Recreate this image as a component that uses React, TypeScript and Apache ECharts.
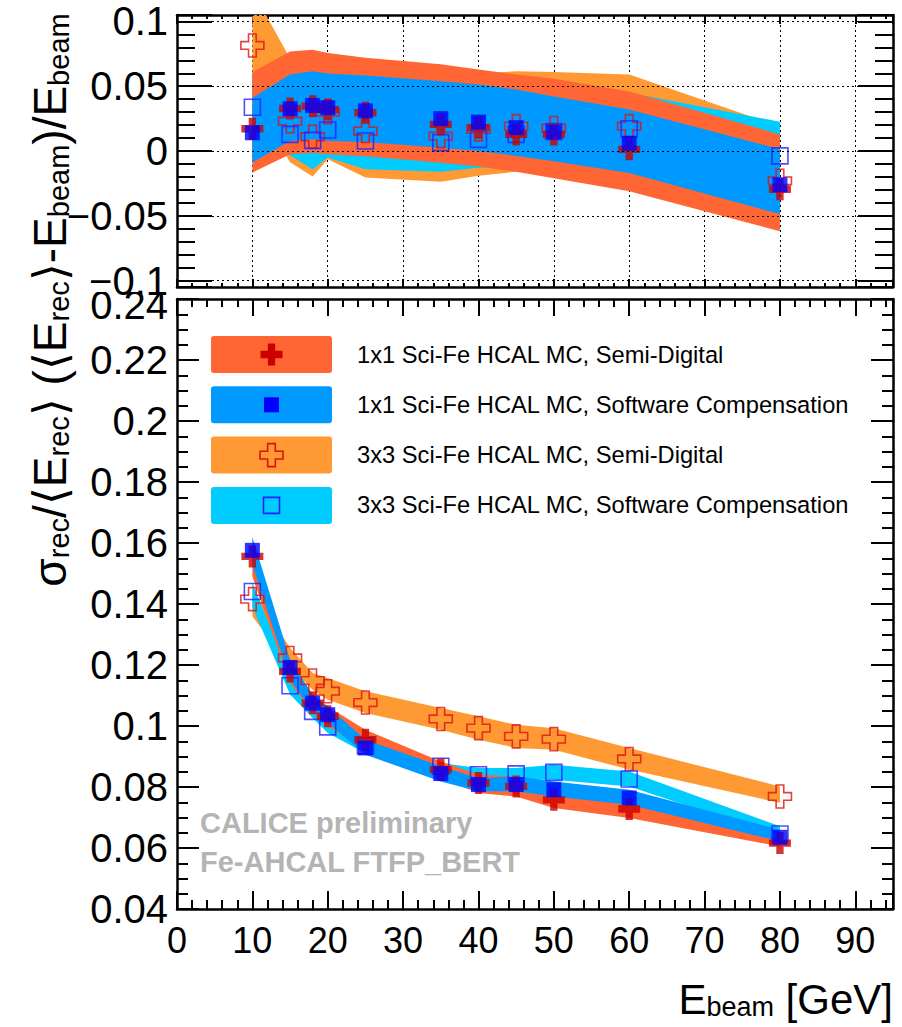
import React, { useEffect, useRef } from "react";
import * as echarts from "echarts";

const FONT = "'Liberation Sans', Arial, Helvetica, sans-serif";

// Beam energies [GeV]
const energies = [10, 15, 18, 20, 25, 35, 40, 45, 50, 60, 80];

// Linearity: (<E_rec> - E_beam) / E_beam
const lin1x1SD = [0.0172, 0.0328, 0.0346, 0.032, 0.0295, 0.0205, 0.018, 0.0128, 0.0128, 0.0013, -0.0295];
const lin1x1SC = [0.0141, 0.0326, 0.0352, 0.0334, 0.031, 0.025, 0.0223, 0.018, 0.0146, 0.006, -0.026];
const lin3x3SD = [0.0815, 0.023, 0.011, 0.03, 0.0154, 0.0115, 0.0167, 0.0192, 0.0177, 0.0192, -0.023];
const lin3x3SC = [0.0338, 0.0128, 0.0082, 0.0162, 0.0077, 0.0065, 0.009, 0.0128, 0.015, 0.0172, -0.0038];

// Linearity uncertainty bands (lower / upper edges)
const linBand1x1SDLo = [-0.0167, -0.0026, -0.0013, -0.0026, -0.004, -0.009, -0.012, -0.016, -0.021, -0.031, -0.062];
const linBand1x1SDHi = [0.0608, 0.0769, 0.0782, 0.0757, 0.072, 0.067, 0.063, 0.059, 0.0557, 0.046, 0.0128];
const linBand1x1SCLo = [-0.0089, 0.0077, 0.009, 0.0077, 0.0069, 0.0026, 0.0, -0.0038, -0.008, -0.017, -0.0487];
const linBand1x1SCHi = [0.041, 0.059, 0.0615, 0.0598, 0.0582, 0.0538, 0.0513, 0.0475, 0.042, 0.032, 0.0013];
const linBand3x3SDLo = [0.039, -0.0087, -0.0197, -0.0064, -0.0205, -0.0238, -0.0192, -0.016, -0.012, -0.01, -0.04];
const linBand3x3SDHi = [0.124, 0.0715, 0.06, 0.062, 0.055, 0.056, 0.06, 0.0615, 0.061, 0.059, 0.019];
const linBand3x3SCLo = [0.0, -0.0033, -0.014, -0.005, -0.014, -0.016, -0.013, -0.011, -0.01, -0.008, -0.028];
const linBand3x3SCHi = [0.058, 0.04, 0.035, 0.04, 0.034, 0.032, 0.034, 0.038, 0.04, 0.045, 0.0226];

// Resolution: sigma_rec / <E_rec>
const res1x1SD = [0.1556, 0.1179, 0.1075, 0.1032, 0.0955, 0.0857, 0.0813, 0.0802, 0.0758, 0.0728, 0.0616];
const res1x1SC = [0.1576, 0.1192, 0.1075, 0.1037, 0.0928, 0.0844, 0.0808, 0.0808, 0.0791, 0.0764, 0.0635];
const res3x3SD = [0.1416, 0.1223, 0.1149, 0.1114, 0.1077, 0.1023, 0.0993, 0.0966, 0.0957, 0.0892, 0.0769];
const res3x3SC = [0.1441, 0.1132, 0.1048, 0.0997, 0.0935, 0.0868, 0.084, 0.0843, 0.0848, 0.0826, 0.0646];

// Resolution uncertainty bands (lower / upper edges)
const resBand1x1SDLo = [0.149, 0.1141, 0.1045, 0.0999, 0.0922, 0.0829, 0.078, 0.0769, 0.0731, 0.0698, 0.0605];
const resBand1x1SDHi = [0.158, 0.1207, 0.11, 0.1064, 0.0988, 0.0884, 0.084, 0.0835, 0.0791, 0.0764, 0.0649];
const resBand1x1SCLo = [0.153, 0.1152, 0.1048, 0.101, 0.0906, 0.0818, 0.0786, 0.0786, 0.0769, 0.0742, 0.0622];
const resBand1x1SCHi = [0.162, 0.1217, 0.1103, 0.1064, 0.0955, 0.0868, 0.0829, 0.0835, 0.0818, 0.0791, 0.066];
const resBand3x3SDLo = [0.136, 0.1195, 0.1119, 0.1086, 0.1043, 0.0988, 0.0955, 0.0928, 0.0922, 0.0857, 0.0748];
const resBand3x3SDHi = [0.145, 0.1256, 0.1174, 0.1157, 0.1114, 0.1059, 0.1032, 0.1004, 0.0993, 0.0928, 0.0802];
const resBand3x3SCLo = [0.139, 0.1103, 0.1026, 0.0977, 0.0911, 0.0846, 0.0824, 0.0824, 0.0824, 0.0802, 0.0638];
const resBand3x3SCHi = [0.147, 0.1163, 0.107, 0.1021, 0.0944, 0.0879, 0.0862, 0.0862, 0.0873, 0.0851, 0.0671];

const legendLabels = [
  "1x1 Sci-Fe HCAL MC, Semi-Digital",
  "1x1 Sci-Fe HCAL MC, Software Compensation",
  "3x3 Sci-Fe HCAL MC, Semi-Digital",
  "3x3 Sci-Fe HCAL MC, Software Compensation",
];

const C_BAND_1x1SD = "#ff6633";
const C_BAND_1x1SC = "#0099ff";
const C_BAND_3x3SD = "#ff9933";
const C_BAND_3x3SC = "#00ccff";
const C_RED = "#cc0000";
const C_RED_OPEN = "#dd1111";
const C_BLUE = "#0000ff";
const C_BLUE_OPEN = "#2222ff";

const CROSS = "path://M1,0L2,0L2,1L3,1L3,2L2,2L2,3L1,3L1,2L0,2L0,1L1,1Z";

const pairs = (ys: number[]) => energies.map((e, i) => [e, ys[i]]);

// A filled band between lower and upper edges, drawn as one polygon clipped to the plot area
function bandSeries(lo: number[], hi: number[], color: string, axis: number) {
  return {
    type: "custom",
    xAxisIndex: axis,
    yAxisIndex: axis,
    silent: true,
    data: energies.map((e, i) => [e, lo[i], hi[i]]),
    encode: { x: 0, y: [1, 2] },
    renderItem: (params: any, api: any) => {
      if (params.dataIndex !== 0) return null;
      const upper = energies.map((e, i) => api.coord([e, hi[i]]));
      const lower = energies.map((e, i) => api.coord([e, lo[i]])).reverse();
      const cs = params.coordSys;
      return {
        type: "polygon",
        shape: { points: upper.concat(lower) },
        style: { fill: color, stroke: null },
        clipPath: { type: "rect", shape: { x: cs.x, y: cs.y, width: cs.width, height: cs.height } },
      };
    },
  };
}

function markerSeries(vals: number[], axis: number, kind: string) {
  const base: any = {
    type: "scatter",
    xAxisIndex: axis,
    yAxisIndex: axis,
    data: pairs(vals),
    silent: true,
  };
  if (kind === "fcross") return { ...base, symbol: CROSS, symbolSize: 22, itemStyle: { color: C_RED } };
  if (kind === "fsquare") return { ...base, symbol: "rect", symbolSize: 15, itemStyle: { color: C_BLUE } };
  if (kind === "ocross")
    return {
      ...base,
      symbol: CROSS,
      symbolSize: 23,
      itemStyle: { color: "rgba(0,0,0,0)", borderColor: C_RED_OPEN, borderWidth: 1.6 },
    };
  return {
    ...base,
    symbol: "rect",
    symbolSize: 16,
    itemStyle: { color: "rgba(0,0,0,0)", borderColor: C_BLUE_OPEN, borderWidth: 1.6 },
  };
}

const numFmt = (v: number) => String(Number(v.toFixed(3))).replace("-", "\u2212");

function xAxisDef(gridIndex: number, position: string, major: number, minor: number, labels: boolean, split: boolean) {
  return {
    type: "value",
    gridIndex,
    position,
    min: 0,
    max: 95,
    interval: 10,
    axisLine: { show: true, onZero: false, lineStyle: { color: "#000", width: 2.5 } },
    axisTick: { show: true, inside: true, length: major, lineStyle: { color: "#000", width: 2 } },
    minorTick: { show: true, splitNumber: 5, length: minor, lineStyle: { color: "#000", width: 2 } },
    axisLabel: labels
      ? {
          show: true,
          margin: 13,
          fontSize: 36,
          fontFamily: FONT,
          color: "#000",
          formatter: (v: number) => (v % 10 === 0 ? String(v) : ""),
        }
      : { show: false },
    splitLine: split ? { show: true, lineStyle: { color: "#000", width: 1, type: [2, 3] } } : { show: false },
  };
}

function yLinDef(position: string, labels: boolean, split: boolean) {
  return {
    type: "value",
    gridIndex: 0,
    position,
    min: -0.105,
    max: 0.105,
    minInterval: 0.05,
    maxInterval: 0.05,
    z: 6,
    axisLine: { show: true, onZero: false, lineStyle: { color: "#000", width: 2.5 } },
    axisTick: { show: true, inside: true, length: 35, lineStyle: { color: "#000", width: 2 } },
    minorTick: { show: true, splitNumber: 5, length: 18, lineStyle: { color: "#000", width: 2 } },
    axisLabel: labels
      ? {
          show: true,
          margin: 9,
          fontSize: 40,
          fontFamily: FONT,
          color: "#000",
          showMinLabel: false,
          showMaxLabel: false,
          formatter: (v: number) => (Math.abs(v) > 0.1001 ? "" : numFmt(v)),
        }
      : { show: false },
    splitLine: split ? { show: true, lineStyle: { color: "#000", width: 1, type: [2, 3] } } : { show: false },
  };
}

function yResDef(position: string, labels: boolean) {
  return {
    type: "value",
    gridIndex: 1,
    position,
    min: 0.04,
    max: 0.24,
    interval: 0.02,
    z: 1,
    axisLine: { show: true, onZero: false, lineStyle: { color: "#000", width: 2.5 } },
    axisTick: { show: true, inside: true, length: 22, lineStyle: { color: "#000", width: 2 } },
    minorTick: { show: true, splitNumber: 4, length: 11, lineStyle: { color: "#000", width: 2 } },
    axisLabel: labels
      ? {
          show: true,
          margin: 9,
          fontSize: 40,
          fontFamily: FONT,
          color: "#000",
          // the topmost label sits a little lower, tucked under the upper pad
          formatter: (v: number) => (v > 0.2399 ? "{t|" + numFmt(v) + "}" : numFmt(v)),
          rich: { t: { fontSize: 40, fontFamily: FONT, color: "#000", padding: [12, 0, 0, 0] } },
        }
      : { show: false },
    splitLine: { show: false },
  };
}

function crossPoints(cx: number, cy: number, s: number) {
  const a = s / 2;
  const b = s / 6;
  return [
    [cx - b, cy - a], [cx + b, cy - a], [cx + b, cy - b], [cx + a, cy - b],
    [cx + a, cy + b], [cx + b, cy + b], [cx + b, cy + a], [cx - b, cy + a],
    [cx - b, cy + b], [cx - a, cy + b], [cx - a, cy - b], [cx - b, cy - b],
  ];
}

function buildGraphics() {
  const g: any[] = [];
  const bandColors = [C_BAND_1x1SD, C_BAND_1x1SC, C_BAND_3x3SD, C_BAND_3x3SC];
  legendLabels.forEach((label, i) => {
    const y0 = 336 + i * 50.3;
    const cx = 271.5;
    const cy = y0 + 18.5;
    g.push({ type: "rect", z: 20, silent: true, shape: { x: 211, y: y0, width: 121, height: 37, r: 3 }, style: { fill: bandColors[i] } });
    if (i === 0) g.push({ type: "polygon", z: 21, shape: { points: crossPoints(cx, cy, 22) }, style: { fill: C_RED } });
    if (i === 1) g.push({ type: "rect", z: 21, shape: { x: cx - 7.5, y: cy - 7.5, width: 15, height: 15 }, style: { fill: C_BLUE } });
    if (i === 2)
      g.push({ type: "polygon", z: 21, shape: { points: crossPoints(cx, cy, 23) }, style: { fill: "none", stroke: C_RED_OPEN, lineWidth: 1.6 } });
    if (i === 3)
      g.push({ type: "rect", z: 21, shape: { x: cx - 8, y: cy - 8, width: 16, height: 16 }, style: { fill: "none", stroke: C_BLUE_OPEN, lineWidth: 1.6 } });
    g.push({
      type: "text", z: 21, x: 357, y: cy,
      style: { text: label, fontSize: 23.7, fontFamily: FONT, fill: "#000", align: "left", verticalAlign: "middle" },
    });
  });

  // preliminary stamp
  g.push({ type: "text", z: 20, x: 200, y: 823, style: { text: "CALICE preliminary", fontSize: 29, fontWeight: "bold", fontFamily: FONT, fill: "#b4b4b4", align: "left", verticalAlign: "middle" } });
  g.push({ type: "text", z: 20, x: 200, y: 862, style: { text: "Fe-AHCAL FTFP_BERT", fontSize: 29, fontWeight: "bold", fontFamily: FONT, fill: "#b4b4b4", align: "left", verticalAlign: "middle" } });

  // white strip of the upper pad covering the top of the lower pad's first label
  g.push({ type: "rect", z: 3, silent: true, shape: { x: 82, y: 0, width: 93, height: 292 }, style: { fill: "#fff" } });

  // y-axis title (shared by both pads)
  g.push({
    type: "text", z: 20, x: 50, y: 300, rotation: Math.PI / 2,
    style: {
      text: "{m|\u03c3}{s|rec}{m|/\u27e8E}{s|rec}{m|\u27e9 (\u27e8E}{s|rec}{m|\u27e9-E}{s|beam}{m|)/E}{s|beam}",
      align: "center", verticalAlign: "middle",
      rich: {
        m: { fontSize: 46, fontFamily: FONT, fill: "#000", lineHeight: 46, verticalAlign: "bottom" },
        s: { fontSize: 29, fontFamily: FONT, fill: "#000", lineHeight: 14, verticalAlign: "bottom" },
      },
    },
  });

  // x-axis title
  g.push({
    type: "text", z: 20, x: 893, y: 999,
    style: {
      text: "{m|E}{s|beam}{m| [GeV]}",
      align: "right", verticalAlign: "middle",
      rich: {
        m: { fontSize: 42, fontFamily: FONT, fill: "#000", lineHeight: 42, verticalAlign: "bottom" },
        s: { fontSize: 27, fontFamily: FONT, fill: "#000", lineHeight: 12, verticalAlign: "bottom" },
      },
    },
  });
  return g;
}

export default function App() {
  const ref = useRef<HTMLDivElement>(null);

  useEffect(() => {
    if (!ref.current) return;
    const chart = echarts.init(ref.current, undefined, { renderer: "svg" });
    const option: any = {
      animation: false,
      backgroundColor: "#fff",
      grid: [
        { left: 177, top: 15, width: 716, height: 272 },
        { left: 177, top: 299, width: 716, height: 610 },
      ],
      xAxis: [
        xAxisDef(0, "bottom", 8, 4, false, true),
        xAxisDef(0, "top", 9, 4, false, false),
        xAxisDef(1, "bottom", 18, 9, true, false),
        xAxisDef(1, "top", 17, 8, false, false),
      ],
      yAxis: [yLinDef("left", true, true), yLinDef("right", false, false), yResDef("left", true), yResDef("right", false)],
      series: [
        bandSeries(linBand3x3SDLo, linBand3x3SDHi, C_BAND_3x3SD, 0),
        bandSeries(linBand3x3SCLo, linBand3x3SCHi, C_BAND_3x3SC, 0),
        bandSeries(linBand1x1SDLo, linBand1x1SDHi, C_BAND_1x1SD, 0),
        bandSeries(linBand1x1SCLo, linBand1x1SCHi, C_BAND_1x1SC, 0),
        markerSeries(lin3x3SD, 0, "ocross"),
        markerSeries(lin3x3SC, 0, "osquare"),
        markerSeries(lin1x1SD, 0, "fcross"),
        markerSeries(lin1x1SC, 0, "fsquare"),
        bandSeries(resBand3x3SDLo, resBand3x3SDHi, C_BAND_3x3SD, 2),
        bandSeries(resBand3x3SCLo, resBand3x3SCHi, C_BAND_3x3SC, 2),
        bandSeries(resBand1x1SDLo, resBand1x1SDHi, C_BAND_1x1SD, 2),
        bandSeries(resBand1x1SCLo, resBand1x1SCHi, C_BAND_1x1SC, 2),
        markerSeries(res3x3SD, 2, "ocross"),
        markerSeries(res3x3SC, 2, "osquare"),
        markerSeries(res1x1SD, 2, "fcross"),
        markerSeries(res1x1SC, 2, "fsquare"),
      ],
      graphic: buildGraphics(),
    };
    chart.setOption(option);
    return () => chart.dispose();
  }, []);

  return (
    <div
      ref={ref}
      style={{ position: "absolute", left: 0, top: 0, width: 902, height: 1027, background: "#fff" }}
    />
  );
}
